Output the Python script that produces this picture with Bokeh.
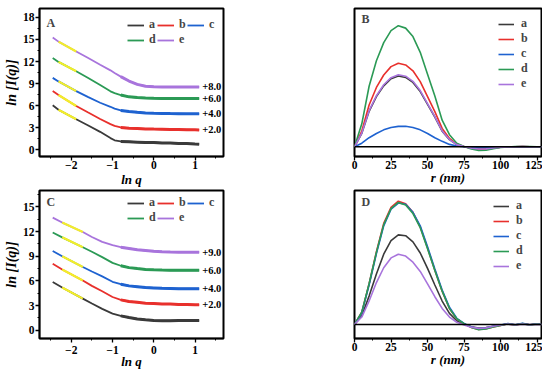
from bokeh.plotting import figure
from bokeh.layouts import row, column
from bokeh.models import Legend, LegendItem, Span, Label, SingleIntervalTicker, Range1d
from bokeh.embed import file_html
from bokeh.resources import INLINE
from bokeh.core.properties import value

FONT = "Liberation Serif"
names = ["a", "b", "c", "d", "e"]
colors = ["#3a3a3a", "#e8302c", "#1e62d0", "#2b9a55", "#a874dc"]
YELLOW = "#f2ee2a"

# ---------------- Panel A (ln I vs ln q) ----------------
qA = [-2.45, -2.31, -1.88, -1.6, -1.3, -1.05, -0.95, -0.8, -0.6, -0.4, -0.2, 0.0, 0.2, 0.4, 0.6, 0.8, 1.0, 1.1]
A_a = [6.05, 5.45, 4.15, 3.35, 2.45, 1.6, 1.3, 1.15, 1.1, 1.05, 1.0, 1.0, 0.95, 0.92, 0.88, 0.85, 0.8, 0.78]
A_b = [7.98, 7.45, 5.96, 5.1, 4.2, 3.5, 3.25, 3.05, 2.95, 2.9, 2.85, 2.82, 2.8, 2.78, 2.76, 2.74, 2.72, 2.7]
A_c = [9.78, 9.3, 7.98, 7.2, 6.4, 5.85, 5.6, 5.35, 5.2, 5.1, 5.02, 4.98, 4.95, 4.93, 4.92, 4.9, 4.9, 4.9]
A_d = [12.47, 11.95, 10.67, 9.8, 8.8, 7.95, 7.7, 7.45, 7.2, 7.1, 7.03, 7.0, 6.98, 6.97, 6.97, 6.97, 6.97, 6.97]
A_e = [15.25, 14.7, 13.37, 12.5, 11.55, 10.8, 10.45, 9.95, 9.35, 8.9, 8.65, 8.57, 8.55, 8.55, 8.55, 8.55, 8.55, 8.55]
A_offsets = ["", "+2.0", "+4.0", "+6.0", "+8.0"]
A_yellow = (1, 2)  # index range of the yellow (fitted) segment

# ---------------- Panel C ----------------
qC = [-2.45, -2.22, -1.72, -1.5, -1.25, -1.0, -0.8, -0.6, -0.4, -0.2, 0.0, 0.2, 0.4, 0.6, 0.8, 1.0, 1.1]
C_a = [5.88, 5.2, 3.85, 3.25, 2.6, 2.03, 1.75, 1.55, 1.38, 1.27, 1.2, 1.17, 1.17, 1.18, 1.18, 1.18, 1.18]
C_b = [8.1, 7.4, 6.05, 5.4, 4.75, 4.05, 3.7, 3.5, 3.4, 3.3, 3.25, 3.2, 3.2, 3.15, 3.15, 3.1, 3.1]
C_c = [9.65, 9.0, 7.7, 7.15, 6.55, 5.9, 5.6, 5.4, 5.3, 5.2, 5.15, 5.1, 5.08, 5.06, 5.05, 5.05, 5.05]
C_d = [11.9, 11.3, 10.1, 9.55, 8.9, 8.2, 7.85, 7.62, 7.5, 7.4, 7.35, 7.32, 7.3, 7.3, 7.3, 7.3, 7.3]
C_e = [13.7, 13.1, 11.95, 11.35, 10.75, 10.35, 10.1, 9.95, 9.8, 9.7, 9.6, 9.55, 9.52, 9.5, 9.5, 9.5, 9.5]
C_offsets = ["", "+2.0", "+4.0", "+6.0", "+9.0"]
C_yellow = (1, 2)

# ---------------- Panels B and D (p(r)) ----------------
r = [0, 5, 10, 15, 20, 25, 30, 35, 40, 45, 50, 55, 60, 65, 70, 75, 80, 85, 90, 95, 100, 105, 110, 115, 120, 125, 128]
B_a = [0, 0.111, 0.293, 0.415, 0.503, 0.562, 0.585, 0.573, 0.532, 0.456, 0.351, 0.246, 0.129, 0.059, 0.018, 0.002, -0.011, -0.018, -0.016, -0.009, -0.004, -0.001, 0.001, 0.002, 0.001, 0.001, 0]
B_b = [0, 0.13, 0.345, 0.49, 0.593, 0.662, 0.69, 0.676, 0.628, 0.538, 0.414, 0.29, 0.152, 0.069, 0.021, 0.002, -0.012, -0.021, -0.019, -0.011, -0.004, -0.001, 0.001, 0.002, 0.001, 0.001, 0]
B_c = [0, 0.03, 0.075, 0.11, 0.14, 0.16, 0.169, 0.17, 0.16, 0.14, 0.11, 0.075, 0.045, 0.02, 0.007, 0.001, -0.003, -0.005, -0.005, -0.003, -0.001, 0, 0.001, 0.001, 0.001, 0, 0]
B_d = [0, 0.19, 0.50, 0.71, 0.86, 0.96, 1.0, 0.98, 0.91, 0.78, 0.60, 0.42, 0.22, 0.10, 0.03, 0.003, -0.018, -0.03, -0.028, -0.016, -0.006, -0.001, 0.002, 0.003, 0.002, 0.001, 0]
B_e = [0, 0.113, 0.298, 0.422, 0.512, 0.571, 0.595, 0.583, 0.541, 0.464, 0.357, 0.25, 0.131, 0.06, 0.018, 0.002, -0.011, -0.018, -0.017, -0.01, -0.004, -0.001, 0.001, 0.002, 0.001, 0.001, 0]

D_a = [0, 0.07, 0.23, 0.41, 0.57, 0.68, 0.727, 0.72, 0.67, 0.58, 0.455, 0.32, 0.19, 0.09, 0.03, 0.002, -0.018, -0.03, -0.026, -0.014, -0.005, 0.003, -0.002, 0.004, -0.002, 0.003, 0]
D_b = [0, 0.10, 0.33, 0.59, 0.82, 0.95, 1.0, 0.98, 0.91, 0.79, 0.62, 0.44, 0.27, 0.13, 0.045, 0.005, -0.025, -0.04, -0.035, -0.02, -0.008, 0.005, -0.004, 0.006, -0.003, 0.004, 0]
D_c = [0, 0.095, 0.32, 0.575, 0.80, 0.935, 0.985, 0.975, 0.91, 0.80, 0.63, 0.45, 0.28, 0.14, 0.05, 0.008, -0.02, -0.035, -0.03, -0.015, -0.005, 0.008, -0.003, 0.009, -0.002, 0.006, 0]
D_d = [0, 0.10, 0.33, 0.585, 0.81, 0.94, 0.99, 0.97, 0.90, 0.785, 0.615, 0.437, 0.27, 0.13, 0.046, 0.006, -0.024, -0.042, -0.037, -0.02, -0.008, 0.006, -0.005, 0.007, -0.004, 0.005, 0]
D_e = [0, 0.06, 0.19, 0.34, 0.46, 0.54, 0.57, 0.555, 0.505, 0.43, 0.33, 0.225, 0.13, 0.06, 0.018, -0.005, -0.022, -0.032, -0.028, -0.015, -0.005, 0.003, -0.002, 0.003, -0.002, 0.002, 0]


def style(p, xlabel, ylabel, xs1, xs2):
    p.outline_line_color = "black"
    p.outline_line_width = 2
    p.xgrid.visible = False
    p.ygrid.visible = False
    p.background_fill_color = "white"
    p.border_fill_color = "white"
    for ax in p.axis:
        ax.axis_line_width = 1.5
        ax.axis_line_color = "black"
        ax.major_tick_out = 4
        ax.major_tick_in = 0
        ax.minor_tick_out = 2
        ax.minor_tick_in = 0
        ax.major_tick_line_width = 1.3
        ax.minor_tick_line_width = 1
        ax.major_label_text_font = FONT
        ax.major_label_text_font_style = "bold"
        ax.major_label_text_font_size = "11.5px"
        ax.major_label_text_color = "black"
        ax.major_label_standoff = 1
        ax.axis_label_text_font = FONT
        ax.axis_label_text_font_style = "bold italic"
        ax.axis_label_text_font_size = "13px"
        ax.axis_label_text_color = "black"
        ax.axis_label_standoff = 1
    p.xaxis.axis_label = xlabel
    p.xaxis.major_label_standoff = xs1
    p.xaxis.axis_label_standoff = xs2
    if ylabel:
        p.yaxis.axis_label = ylabel
        p.yaxis.axis_label_text_font_size = "14px"


def panel_label(p, txt, y):
    p.add_layout(Label(x=7, y=y, x_units="screen", y_units="screen", text=txt,
                       text_font=FONT, text_font_style="bold", text_font_size="12px",
                       text_baseline="top", text_align="left"))


def sas_panel(q, curves, offsets, yel, yr, letter, height, top, bottom, xs1, xs2, legloc, laby):
    p = figure(width=280, height=height, x_range=Range1d(-2.77, 1.69), y_range=Range1d(*yr),
               output_backend="svg", toolbar_location=None,
               min_border_left=38, min_border_right=57, min_border_top=top, min_border_bottom=bottom)
    p.xaxis.ticker = SingleIntervalTicker(interval=1, num_minor_ticks=2)
    p.yaxis.ticker = SingleIntervalTicker(interval=3, num_minor_ticks=2)
    style(p, "ln q", "ln [I(q)]", xs1, xs2)
    items = []
    for name, col, ys, off in zip(names, colors, curves, offsets):
        rr = p.line(q, ys, line_color=col, line_width=1.8)
        flat = [i for i, x in enumerate(q) if x >= -0.9]
        p.line([q[i] for i in flat], [ys[i] for i in flat], line_color=col, line_width=3.0)
        p.line(q[yel[0]:yel[1] + 1], ys[yel[0]:yel[1] + 1], line_color=YELLOW, line_width=2.2)
        items.append(LegendItem(label=name, renderers=[rr]))
        if off:
            p.text(x=[q[-1]], y=[ys[-1]], text=[off], x_offset=3,
                   text_font=value(FONT), text_font_style="bold", text_font_size="10.5px",
                   text_baseline="middle", text_align="left", text_color="black")
    leg = Legend(items=items, location=legloc, orientation="horizontal", ncols=3, nrows=2,
                 label_text_font=FONT, label_text_font_style="bold", label_text_font_size="12px",
                 label_text_line_height=1.0,
                 glyph_width=17, glyph_height=12, label_height=12, label_width=8,
                 label_standoff=5, spacing=-1, padding=0, margin=0,
                 background_fill_alpha=0, border_line_alpha=0)
    p.add_layout(leg)
    panel_label(p, letter, laby)
    return p


def pr_panel(curves, yr, letter, height, top, bottom, xs1, xs2, legloc, laby):
    p = figure(width=262, height=height, x_range=Range1d(0, 128), y_range=Range1d(*yr),
               output_backend="svg", toolbar_location=None,
               min_border_left=74, min_border_right=1, min_border_top=top, min_border_bottom=bottom)
    p.xaxis.ticker = SingleIntervalTicker(interval=25, num_minor_ticks=2)
    p.yaxis.visible = False
    style(p, "r (nm)", None, xs1, xs2)
    p.add_layout(Span(location=0, dimension="width", line_color="black", line_width=1.5))
    items = []
    for name, col, ys in zip(names, colors, curves):
        rr = p.line(r, ys, line_color=col, line_width=1.6)
        items.append(LegendItem(label=name, renderers=[rr]))
    leg = Legend(items=items, location=legloc,
                 label_text_font=FONT, label_text_font_style="bold", label_text_font_size="12px",
                 label_text_line_height=1.0,
                 glyph_width=16, glyph_height=12, label_height=12, label_width=8,
                 label_standoff=7, spacing=0, padding=0, margin=0,
                 background_fill_alpha=0, border_line_alpha=0)
    p.add_layout(leg)
    panel_label(p, letter, laby)
    return p


pA = sas_panel(qA, [A_a, A_b, A_c, A_d, A_e], A_offsets, A_yellow, (-0.9, 19.2), "A",
               189, 8, 32, 0, 0, (88, 109), 141)
pC = sas_panel(qC, [C_a, C_b, C_c, C_d, C_e], C_offsets, C_yellow, (-1.0, 17.0), "C",
               183, 1, 34, 3, -3, (88, 113), 144)
pB = pr_panel([B_a, B_b, B_c, B_d, B_e], (-0.08, 1.142), "B", 189, 8, 32, 0, -2, (144, 65), 145)
pD = pr_panel([D_a, D_b, D_c, D_d, D_e], (-0.114, 1.087), "D", 183, 1, 33, 0, -2, (139, 65), 144)

layout = column(row(pA, pB), row(pC, pD))
open("out.html", "w").write(file_html(layout, INLINE))
